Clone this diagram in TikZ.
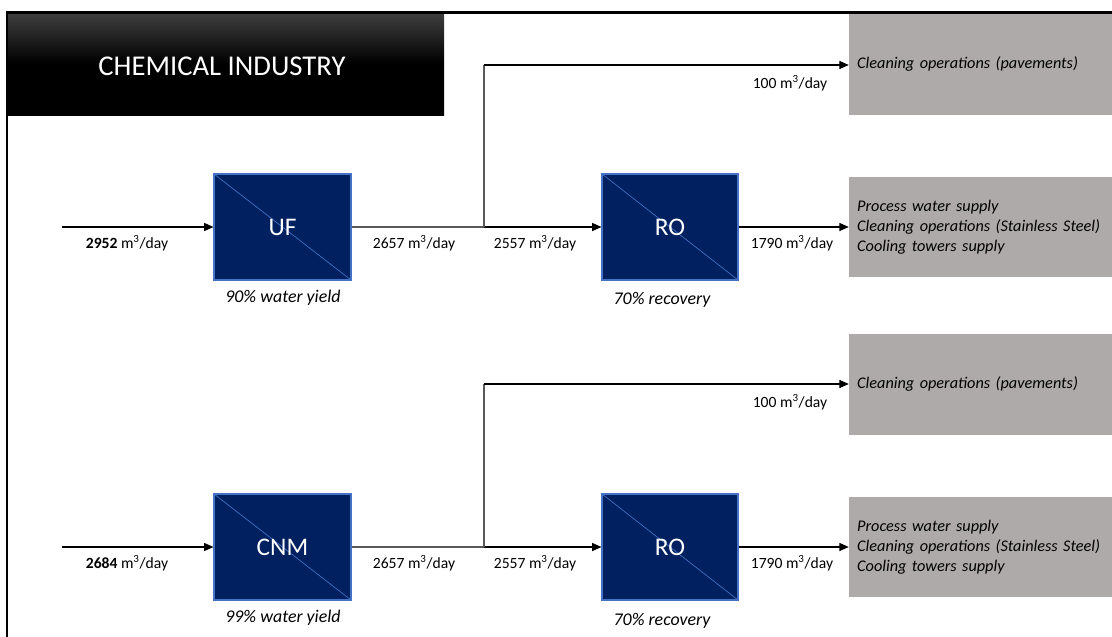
\documentclass[tikz,border=0pt]{standalone}
\usepackage{fontspec}
\setmainfont{Carlito}
\usetikzlibrary{arrows.meta}
\definecolor{navy}{HTML}{002060}
\definecolor{edgeblue}{HTML}{4472C4}
\definecolor{usegray}{HTML}{AEAAAA}
\definecolor{feedgray}{HTML}{595959}
\tikzset{
  unit/.style={draw=edgeblue, line width=0.8pt, fill=navy, text=white,
    font=\fontsize{19}{22}\selectfont, minimum width=#1, minimum height=79.5pt,
    inner sep=0pt,
    path picture={\draw[edgeblue, line width=0.5pt]
      (path picture bounding box.north west) -- (path picture bounding box.south east);}},
  usebox/.style={fill=usegray, minimum width=197.25pt, minimum height=#1,
    text width=185pt, inner xsep=6.1pt, align=left,
    font=\fontsize{12.2}{15}\selectfont\itshape},
  flowlabel/.style={font=\fontsize{11.7}{14}\selectfont, inner sep=0pt},
  yieldlabel/.style={font=\fontsize{13.4}{16}\selectfont\itshape, inner sep=0pt},
  feed/.style={draw=feedgray, line width=1.3pt},
  branch/.style={draw=feedgray, line width=0.8pt},
  flow/.style={draw=black, line width=0.8pt, -{Triangle[length=7pt,width=6pt]}},
}
\newcommand{\mday}{m\textsuperscript{3}/day}
\begin{document}
\begin{tikzpicture}[x=0.75pt,y=-0.75pt]
\useasboundingbox (0,0) rectangle (1112,636);

% header banner
\path[top color=black!75, bottom color=black, middle color=black]
  (7,12) rectangle (444,115);
\node[text=white, font=\fontsize{21.5}{26}\selectfont, inner sep=0pt] (title) at (222,66) {CHEMICAL INDUSTRY};

% end-use boxes
\node[usebox=76.5pt] (clean1) at (980.5,64) {Cleaning operations (pavements)};
\node[usebox=75pt] (proc1) at (980.5,227) {Process water supply\\Cleaning operations (Stainless Steel)\\Cooling towers supply};
\node[usebox=75.75pt] (clean2) at (980.5,384) {Cleaning operations (pavements)};
\node[usebox=75pt] (proc2) at (980.5,547) {Process water supply\\Cleaning operations (Stainless Steel)\\Cooling towers supply};

% treatment units
\node[unit=102.75pt] (uf) at (282.5,227) {UF};
\node[unit=102pt] (ro1) at (670,227) {RO};
\node[unit=102.75pt] (cnm) at (282.5,547) {CNM};
\node[unit=102pt] (ro2) at (670,547) {RO};

% line 1: UF + RO
\coordinate (in1) at (62,227);
\coordinate (br1) at (484,227);
\draw[flow] (in1) -- (uf.west);
\draw[feed] (uf.east) -- (br1);
\draw[flow] (br1) -- (ro1.west);
\draw[branch] (br1) -- (br1 |- 0,65);
\draw[flow] (br1 |- 0,65) -- (clean1.west |- 0,65);
\draw[flow] (ro1.east) -- (proc1.west);

% line 2: CNM + RO
\coordinate (in2) at (62,547);
\coordinate (br2) at (484,547);
\draw[flow] (in2) -- (cnm.west);
\draw[feed] (cnm.east) -- (br2);
\draw[flow] (br2) -- (ro2.west);
\draw[branch] (br2) -- (br2 |- 0,384);
\draw[flow] (br2 |- 0,384) -- (clean2.west |- 0,384);
\draw[flow] (ro2.east) -- (proc2.west);

% flow labels, line 1
\node[flowlabel] (q1a) at (127,243) {\textbf{2952} \mday};
\node[flowlabel] (q1b) at (414,243) {2657 \mday};
\node[flowlabel] (q1c) at (535,243) {2557 \mday};
\node[flowlabel] (q1d) at (792,243) {1790 \mday};
\node[flowlabel] (q1e) at (790,83) {100 \mday};
\node[yieldlabel] (y1a) at (283,298) {90\% water yield};
\node[yieldlabel] (y1b) at (662,300) {70\% recovery};

% flow labels, line 2
\node[flowlabel] (q2a) at (127,563) {\textbf{2684} \mday};
\node[flowlabel] (q2b) at (414,563) {2657 \mday};
\node[flowlabel] (q2c) at (535,563) {2557 \mday};
\node[flowlabel] (q2d) at (792,563) {1790 \mday};
\node[flowlabel] (q2e) at (790,402) {100 \mday};
\node[yieldlabel] (y2a) at (283,618) {99\% water yield};
\node[yieldlabel] (y2b) at (662,621) {70\% recovery};

% outer frame
\draw[line width=1.6pt] (7,637) -- (7,12.5) -- (1113,12.5);
\end{tikzpicture}
\end{document}
